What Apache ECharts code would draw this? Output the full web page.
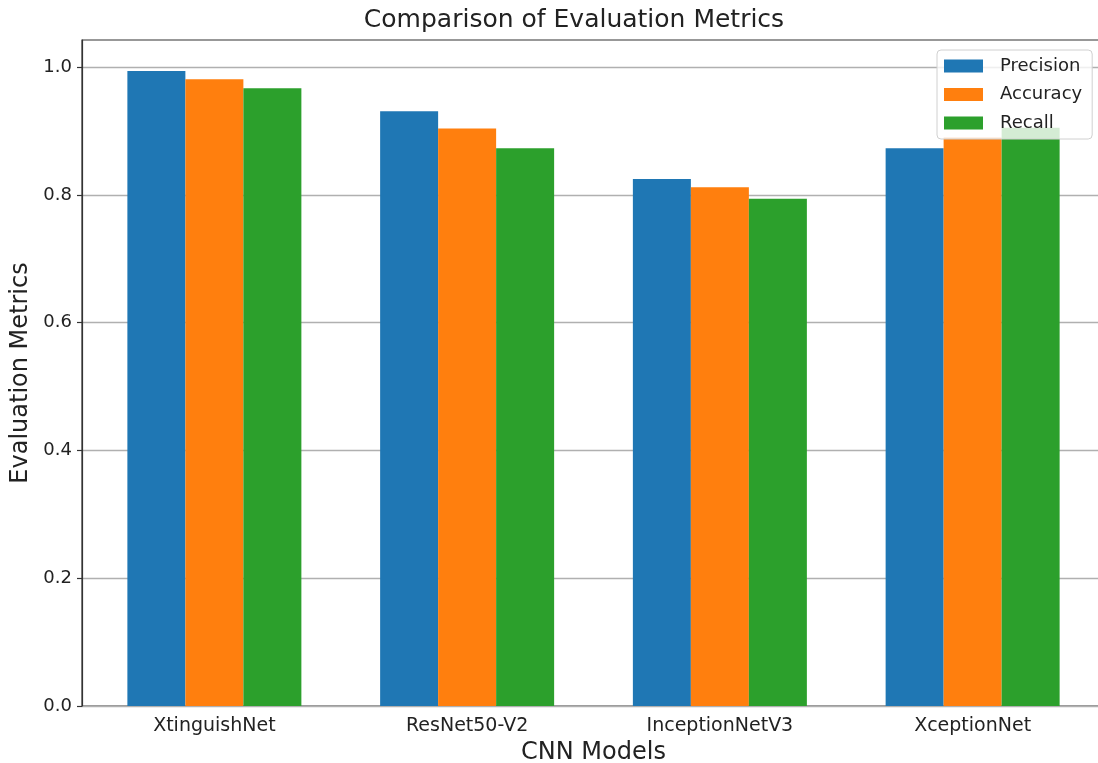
<!DOCTYPE html>
<html>
<head>
<meta charset="utf-8">
<script src="https://cdn.jsdelivr.net/npm/echarts@6/dist/echarts.min.js"></script>
<style>
  html, body { margin: 0; padding: 0; background: #fff; }
  #chart { width: 1098px; height: 763px; }
</style>
</head>
<body>
<div id="chart"></div>
<script>
// values
const models = ["XtinguishNet", "ResNet50-V2", "InceptionNetV3", "XceptionNet"];
const precision = [0.994, 0.931, 0.825, 0.873];
const accuracy = [0.981, 0.904, 0.812, 0.89];
const recall = [0.967, 0.873, 0.794, 0.905];
const yTicks = [0, 0.2, 0.4, 0.6, 0.8, 1.0];

const font = "DejaVu Sans";
const yMax = 1.0425;

const chart = echarts.init(document.getElementById("chart"));

const option = {
  animation: false,
  textStyle: { fontFamily: font },
  title: {
    text: "Comparison of Evaluation Metrics",
    left: 574,
    top: 8,
    padding: 0,
    textAlign: "center",
    textStyle: { fontFamily: font, fontSize: 25, fontWeight: "normal", color: "#222" }
  },
  legend: {
    orient: "vertical",
    left: 937,
    top: 50,
    z: 10,
    padding: [7, 10, 7, 7],
    itemWidth: 39,
    itemHeight: 13,
    itemGap: 10.5,
    icon: "rect",
    backgroundColor: "rgba(255,255,255,0.8)",
    borderColor: "#d0d0d0",
    borderWidth: 1,
    borderRadius: 4,
    textStyle: { fontFamily: font, fontSize: 18, color: "#222", padding: [0, 0, 0, 12] },
    data: ["Precision", "Accuracy", "Recall"]
  },
  grid: [
    // frame with the y axis and grid lines
    { left: 82, top: 40, width: 1025, height: 666, outerBoundsMode: "none", show: true, borderColor: "#333", borderWidth: 1.2, backgroundColor: "transparent" },
    // data area, shifted like matplotlib's x margins
    { left: 88, top: 40, width: 1011, height: 666, outerBoundsMode: "none" }
  ],
  xAxis: [
    { gridIndex: 0, type: "value", min: 0, max: 1, show: false },
    {
      gridIndex: 1,
      type: "category",
      data: models,
      axisLine: { show: false },
      axisTick: { alignWithLabel: true, length: 5, lineStyle: { color: "#333", width: 1.2 } },
      axisLabel: { fontFamily: font, fontSize: 19, color: "#222", margin: 11 },
      name: "CNN Models",
      nameLocation: "middle",
      nameGap: 30,
      nameTextStyle: { fontFamily: font, fontSize: 24, color: "#222" }
    }
  ],
  yAxis: [
    {
      gridIndex: 0,
      type: "value",
      min: 0,
      max: yMax,
      interval: 0.2,
      axisLine: { show: true, lineStyle: { color: "#333", width: 1.2 } },
      axisTick: { show: true, length: 5, customValues: yTicks, lineStyle: { color: "#333", width: 1.2 } },
      axisLabel: {
        fontFamily: font, fontSize: 18, color: "#222", margin: 10,
        customValues: yTicks,
        formatter: v => v.toFixed(1)
      },
      splitLine: { show: true, lineStyle: { color: "#b0b0b0", width: 1.3 } },
      name: "Evaluation Metrics",
      nameLocation: "middle",
      nameGap: 44,
      nameTextStyle: { fontFamily: font, fontSize: 24, color: "#222" }
    },
    { gridIndex: 1, type: "value", min: 0, max: yMax, show: false }
  ],
  series: [
    { name: "Precision", type: "bar", xAxisIndex: 1, yAxisIndex: 1, data: precision, barWidth: 58, barGap: "0%", itemStyle: { color: "#1f77b4" } },
    { name: "Accuracy", type: "bar", xAxisIndex: 1, yAxisIndex: 1, data: accuracy, barWidth: 58, barGap: "0%", itemStyle: { color: "#ff7f0e" } },
    { name: "Recall", type: "bar", xAxisIndex: 1, yAxisIndex: 1, data: recall, barWidth: 58, barGap: "0%", itemStyle: { color: "#2ca02c" } }
  ]
};

chart.setOption(option);
</script>
</body>
</html>
